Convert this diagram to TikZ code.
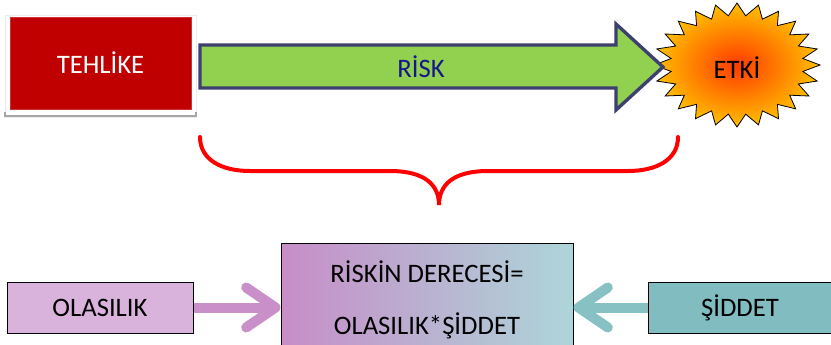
\documentclass[tikz,border=0pt]{standalone}
\usepackage{fontspec}
\setmainfont{Carlito}
\usepackage{tikz}
\usetikzlibrary{arrows.meta}
\usetikzlibrary{positioning}
\definecolor{tehlikeRed}{HTML}{C00000}
\definecolor{riskGreen}{HTML}{92D050}
\definecolor{riskBorder}{HTML}{3D3F6E}
\definecolor{riskBlue}{HTML}{16168C}
\definecolor{braceRed}{HTML}{FF0000}
\definecolor{olasilikFill}{HTML}{DAB3DC}
\definecolor{olasilikArrow}{HTML}{C98FC9}
\definecolor{siddetFill}{HTML}{80BCC0}
\definecolor{siddetArrow}{HTML}{88C1C4}
\definecolor{dereceLeft}{HTML}{C78DC8}
\definecolor{dereceRight}{HTML}{ADD6D9}
\definecolor{etkiIn}{HTML}{FF3A00}
\definecolor{etkiOut}{HTML}{FFC000}
\tikzstyle{box} = [rectangle, draw=black, line width=0.75pt, font=\fontsize{20}{24}\selectfont, text centered]
\tikzstyle{fatArrow} = [line width=7.5pt, -{Straight Barb[length=22pt, width=30pt, round]}]

\begin{document}
\begin{tikzpicture}[x=0.75pt, y=-0.75pt]
    \useasboundingbox (0,0) rectangle (831,344);
    \clip (0,0) rectangle (831,344);
    % frame behind the red box
    \draw [gray!15, fill=white] (5,15) rectangle (196,117);
    \draw [gray!70, line width=2pt] (5,112) -- (5,116) -- (196,116) -- (196,112);
    \node (tehlike) [box, draw=tehlikeRed!80!white, fill=tehlikeRed, text=white, minimum width=135.75pt, minimum height=69pt] at (100.5,63) {TEHLİKE};
    % star
    \coordinate (etkiC) at (737,65);
    \begin{scope}[shift={(etkiC)}]
        \shade [inner color=etkiIn, outer color=etkiOut, draw=black, line width=0.6pt]
            (83,0) \foreach \i [evaluate=\i as \f using {1-0.2*mod(\i,2)}] in {1,...,47} { -- ({83*\f*cos(\i*7.5)}, {62*\f*sin(\i*7.5)}) } -- cycle;
    \end{scope}
    \node (etki) [font=\fontsize{20}{24}\selectfont] at (737,68) {ETKİ};
    % green arrow
    \draw [riskBorder, line width=2.5pt, fill=riskGreen, line join=miter] (200,45) -- (616,45) -- (616,24) -- (663,67) -- (616,110) -- (616,88) -- (200,88) -- cycle;
    \node (risk) [text=riskBlue, font=\fontsize{20}{24}\selectfont] at (421,67) {RİSK};
    % brace
    \draw [braceRed, line width=3pt, line cap=round]
        (200,137) .. controls (200,160) and (222,171) .. (250,171) -- (390,171) .. controls (425,171) and (439,185) .. (439,205)
        .. controls (439,185) and (453,171) .. (488,171) -- (628,171) .. controls (656,171) and (678,160) .. (678,137);
    % bottom row
    \node (derece) [box, left color=dereceLeft, right color=dereceRight, minimum width=219pt, minimum height=85.5pt, align=center, font=\fontsize{20}{39}\selectfont] at (427,300) {RİSKİN DERECESİ=\\OLASILIK*ŞİDDET};
    \node (olasilik) [box, fill=olasilikFill, minimum width=139.5pt, minimum height=38.25pt] at (100,307.5) {OLASILIK};
    \node (siddet) [box, fill=siddetFill, minimum width=138pt, minimum height=38.25pt] at (740,307.5) {ŞİDDET};
    \draw [fatArrow, olasilikArrow] (olasilik.east) -- (olasilik.east -| derece.west);
    \draw [fatArrow, siddetArrow] (siddet.west) -- (siddet.west -| derece.east);
\end{tikzpicture}
\end{document}
